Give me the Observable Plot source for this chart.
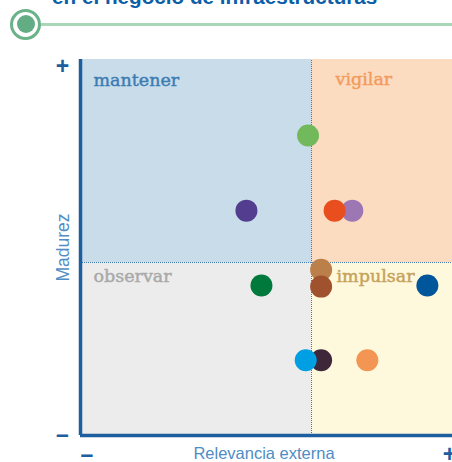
<!DOCTYPE html>
<html>
<head>
<meta charset="utf-8">
<script src="https://cdn.jsdelivr.net/npm/d3@7"></script>
<script src="https://cdn.jsdelivr.net/npm/@observablehq/plot@0.6"></script>
<style>
  html, body { margin: 0; padding: 0; background: #fff; overflow: hidden; width: 452px; height: 462px; }
  #header { position: relative; height: 40px; width: 452px; overflow: hidden; }
  #title { position: absolute; left: 52px; top: -13.8px; font: bold 20.7px "Liberation Sans", Arial, sans-serif; line-height: 21px; color: #0b5ea8; white-space: nowrap; }
  #ring { position: absolute; left: 10px; top: 8.5px; width: 31px; height: 31px; box-sizing: border-box; border: 3.5px solid #6ab389; border-radius: 50%; background: #fff; }
  #dotc { position: absolute; left: 16.5px; top: 15px; width: 18px; height: 18px; border-radius: 50%; background: #62ad84; }
  #rule { position: absolute; left: 41px; top: 22.5px; width: 411px; height: 3px; background: #a9d7b8; }
  #chart { width: 465px; }
  #chart svg { display: block; max-width: none !important; }
</style>
</head>
<body>
<div id="header">
  <div id="title">en el negocio de infraestructuras</div>
  <div id="rule"></div>
  <div id="ring"></div>
  <div id="dotc"></div>
</div>
<div id="chart"></div>
<script>
// ---- data ----
const xSplit = 6.0;
const ySplit = 4.6;
const quadrantNames = ["mantener", "vigilar", "observar", "impulsar"];
const quadrantFills = ["#c9dcea", "#fcdcc0", "#ececec", "#fef8dc"];
const quadrantTextColors = ["#3d7cb3", "#f39b5d", "#a9a9a9", "#c6a25a"];
const pointX = [5.91, 4.31, 7.06, 6.60, 6.25, 4.70, 6.25, 9.01, 6.25, 5.85, 7.45];
const pointY = [7.98, 5.98, 5.98, 5.98, 4.41, 3.99, 3.96, 3.99, 2.00, 2.00, 2.00];
const pointColor = ["#72b95b", "#523d8f", "#9d76b4", "#e94e1f", "#bb7f4a", "#00793c", "#a0512d", "#00569b", "#3e2739", "#009ee2", "#f39553"];
const xLabel = "Relevancia externa";
const yLabel = "Madurez";
const plusLabel = "+";
const minusLabel = "\u2013";

// ---- derived tables ----
const quads = [
  {x1: 0, x2: xSplit, y1: ySplit, y2: 10},
  {x1: xSplit, x2: 10, y1: ySplit, y2: 10},
  {x1: 0, x2: xSplit, y1: 0, y2: ySplit},
  {x1: xSplit, x2: 10, y1: 0, y2: ySplit}
].map((q, i) => ({...q, name: quadrantNames[i], fill: quadrantFills[i], color: quadrantTextColors[i]}));
const points = pointX.map((x, i) => ({x, y: pointY[i], color: pointColor[i]}));

const axisBlue = "#1d5e9f";
const labelBlue = "#4f8dc4";
const serif = "'DejaVu Serif', serif";

function quadLabel(i, dx, dy) {
  return Plot.text([quads[i]], {
    x: "x1", y: "y2", text: "name", fill: "color", stroke: "color", strokeWidth: 0.45,
    textAnchor: "start", lineAnchor: "top",
    dx, dy, fontFamily: serif, fontSize: 17.5
  });
}

const chart = Plot.plot({
  width: 465,
  height: 422,
  marginLeft: 80,
  marginRight: 0,
  marginTop: 19,
  marginBottom: 27,
  x: {domain: [0, 10], axis: null},
  y: {domain: [0, 10], axis: null},
  style: {fontFamily: "'Liberation Sans', Arial, sans-serif", background: "transparent", maxWidth: "none"},
  marks: [
    Plot.rect(quads, {x1: "x1", x2: "x2", y1: "y1", y2: "y2", fill: "fill"}),
    Plot.ruleX([xSplit], {y1: 0, y2: 10, stroke: "#3f78b0", strokeWidth: 1, strokeDasharray: "1,1"}),
    Plot.ruleY([ySplit], {x1: 0, x2: 10, stroke: "#3f78b0", strokeWidth: 1, strokeDasharray: "1,1"}),
    quadLabel(0, 13, 13.6),
    quadLabel(1, 24, 12.6),
    quadLabel(2, 13, 7.3),
    quadLabel(3, 25, 7.3),
    Plot.ruleX([0], {y1: 0, y2: 10, stroke: axisBlue, strokeWidth: 3.5}),
    Plot.ruleY([0], {x1: 0, x2: 10, stroke: axisBlue, strokeWidth: 3.5}),
    Plot.dot(points, {x: "x", y: "y", r: 11, fill: "color", stroke: null}),
    // tick signs
    Plot.text([plusLabel], {x: 0, y: 10, text: d => d, dx: -18, dy: 7, fill: axisBlue, fontWeight: "bold", fontSize: 23, lineAnchor: "middle"}),
    Plot.text([minusLabel], {x: 0, y: 0, text: d => d, dx: -18, dy: -1, fill: axisBlue, fontWeight: "bold", fontSize: 23, lineAnchor: "middle"}),
    Plot.text([minusLabel], {x: 0, y: 0, text: d => d, dx: 6.5, dy: 19, fill: axisBlue, fontWeight: "bold", fontSize: 23, lineAnchor: "middle"}),
    Plot.text([plusLabel], {x: 10, y: 0, text: d => d, dx: -16, dy: 19, fill: axisBlue, fontWeight: "bold", fontSize: 23, lineAnchor: "middle"}),
    // axis titles
    Plot.text([yLabel], {frameAnchor: "left", text: d => d, rotate: -90, dx: -17.5, fill: labelBlue, fontSize: 17.5, textAnchor: "middle", lineAnchor: "middle"}),
    Plot.text([xLabel], {frameAnchor: "bottom", text: d => d, dx: -9, dy: 12, fill: labelBlue, fontSize: 16.5, textAnchor: "middle", lineAnchor: "top"})
  ]
});
document.getElementById("chart").appendChild(chart);
</script>
</body>
</html>
